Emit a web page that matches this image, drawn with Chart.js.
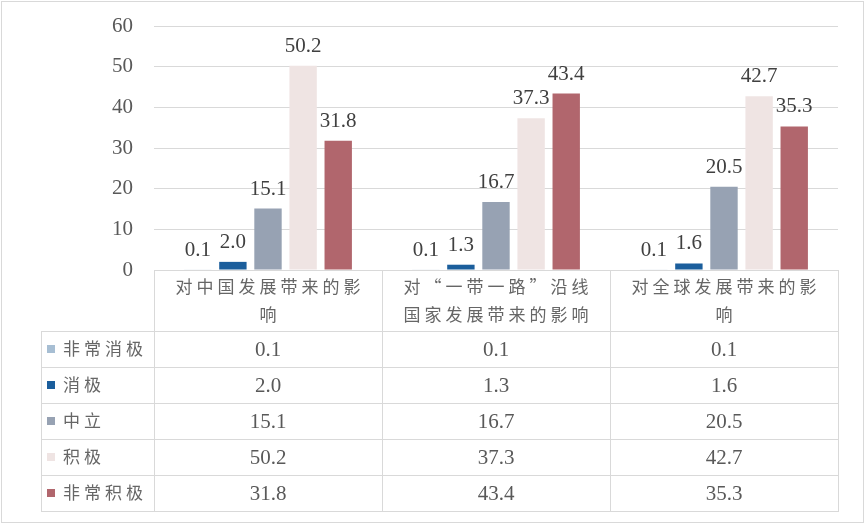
<!DOCTYPE html>
<html>
<head>
<meta charset="utf-8">
<script src="https://cdn.jsdelivr.net/npm/chart.js@4.4.1/dist/chart.umd.min.js"></script>
<style>
  html, body { margin: 0; padding: 0; background: #fff; }
  #wrap { width: 865px; height: 524px; }
</style>
</head>
<body>
<div id="wrap"><canvas id="chart"></canvas></div>
<script>
// categories, each already split into its wrapped lines
const categories = [
    ['对中国发展带来的影', '响'],
    ['对“一带一路”沿线', '国家发展带来的影响'],
    ['对全球发展带来的影', '响']
];
const seriesNames = ['非常消极', '消极', '中立', '积极', '非常积极'];
const veryNegative = [0.1, 0.1, 0.1];
const negative = [2.0, 1.3, 1.6];
const neutral = [15.1, 16.7, 20.5];
const positive = [50.2, 37.3, 42.7];
const veryPositive = [31.8, 43.4, 35.3];
const yMax = 60;
const yStep = 10;

const seriesValues = [veryNegative, negative, neutral, positive, veryPositive];
const seriesColors = ['#A7BED3', '#1B5E9C', '#97A2B3', '#EFE4E3', '#B1666D'];

const serif = '"Liberation Serif", "Times New Roman", serif';
const numFont = '21px ' + serif;
const cjkFont = '17px "Noto Sans CJK SC", sans-serif';
const textColor = '#595959';
const cjkColor = '#666666';
const lineColor = '#D9D9D9';

function drawSpaced(ctx, text, x, y, spacing, align) {
    const chars = Array.from(text);
    const widths = chars.map(c => ctx.measureText(c).width);
    const total = widths.reduce((a, b) => a + b, 0) + spacing * (chars.length - 1);
    let cx = align === 'center' ? x - total / 2 : x;
    ctx.textAlign = 'left';
    chars.forEach((c, i) => {
        ctx.fillText(c, cx, y);
        cx += widths[i] + spacing;
    });
}

const frame = {
    id: 'frame',
    beforeDraw(chart) {
        const ctx = chart.ctx;
        ctx.save();
        ctx.fillStyle = '#fff';
        ctx.fillRect(0, 0, chart.width, chart.height);
        ctx.strokeStyle = lineColor;
        ctx.lineWidth = 1;
        ctx.strokeRect(1.5, 1.5, chart.width - 3, chart.height - 3);
        ctx.restore();
    }
};

const barLabels = {
    id: 'barLabels',
    afterDatasetsDraw(chart) {
        const ctx = chart.ctx;
        ctx.save();
        ctx.font = numFont;
        ctx.fillStyle = '#404040';
        ctx.textAlign = 'center';
        ctx.textBaseline = 'alphabetic';
        chart.data.datasets.forEach((ds, di) => {
            chart.getDatasetMeta(di).data.forEach((bar, i) => {
                ctx.fillText(ds.data[i].toFixed(1), bar.x, bar.y - 14);
            });
        });
        ctx.restore();
    }
};

// data table under the plot, Excel style
const dataTable = {
    id: 'dataTable',
    afterDraw(chart) {
        const ctx = chart.ctx;
        const area = chart.chartArea;
        const xs = chart.scales.x;
        const half = (area.right - area.left) / categories.length / 2;
        const top = area.bottom;
        const headH = 61;
        const rowH = 36;
        const legendLeft = 41;
        const bottom = top + headH + rowH * seriesNames.length;

        ctx.save();
        ctx.strokeStyle = lineColor;
        ctx.lineWidth = 1;
        ctx.beginPath();
        // vertical lines
        ctx.moveTo(Math.round(area.left) + 0.5, top);
        ctx.lineTo(Math.round(area.left) + 0.5, bottom);
        categories.forEach((c, i) => {
            const xr = Math.round(xs.getPixelForValue(i) + half) + 0.5;
            ctx.moveTo(xr, top);
            ctx.lineTo(xr, bottom);
        });
        ctx.moveTo(legendLeft + 0.5, top + headH);
        ctx.lineTo(legendLeft + 0.5, bottom);
        // horizontal lines
        for (let r = 0; r <= seriesNames.length; r++) {
            const y = Math.round(top + headH + r * rowH) + 0.5;
            ctx.moveTo(legendLeft, y);
            ctx.lineTo(area.right + 1, y);
        }
        ctx.stroke();

        // header
        ctx.fillStyle = cjkColor;
        ctx.font = cjkFont;
        ctx.textBaseline = 'middle';
        categories.forEach((lines, i) => {
            const cx = xs.getPixelForValue(i);
            const mid = top + headH / 2;
            lines.forEach((line, li) => {
                const y = mid + (li - (lines.length - 1) / 2) * 28;
                drawSpaced(ctx, line, cx, y, 4, 'center');
            });
        });

        // rows
        seriesNames.forEach((name, r) => {
            const cy = top + headH + r * rowH + rowH / 2;
            ctx.fillStyle = seriesColors[r];
            ctx.fillRect(47, Math.round(cy) - 4, 8, 8);
            ctx.fillStyle = cjkColor;
            ctx.font = cjkFont;
            drawSpaced(ctx, name, 63, cy, 4, 'left');
            ctx.fillStyle = textColor;
            ctx.font = numFont;
            ctx.textAlign = 'center';
            seriesValues[r].forEach((v, i) => {
                ctx.fillText(v.toFixed(1), xs.getPixelForValue(i), cy + 1);
            });
        });
        ctx.restore();
    }
};

new Chart(document.getElementById('chart'), {
    type: 'bar',
    data: {
        labels: categories,
        datasets: seriesNames.map((name, i) => ({
            label: name,
            data: seriesValues[i],
            backgroundColor: seriesColors[i],
            categoryPercentage: 0.77,
            barPercentage: 0.78
        }))
    },
    options: {
        responsive: true,
        maintainAspectRatio: false,
        animation: false,
        layout: { padding: { left: 0, top: 26, right: 27, bottom: 254 } },
        plugins: {
            legend: { display: false },
            tooltip: { enabled: false }
        },
        scales: {
            x: { display: false },
            y: {
                min: 0,
                max: yMax,
                afterFit: (scale) => {
                    scale.width = 154;
                    scale.paddingTop = 0;
                    scale.paddingBottom = 0;
                },
                ticks: {
                    stepSize: yStep,
                    padding: 21,
                    color: textColor,
                    font: { family: serif, size: 21 }
                },
                grid: { color: lineColor, drawTicks: false },
                border: { display: false }
            }
        }
    },
    plugins: [frame, barLabels, dataTable]
});
</script>
</body>
</html>
